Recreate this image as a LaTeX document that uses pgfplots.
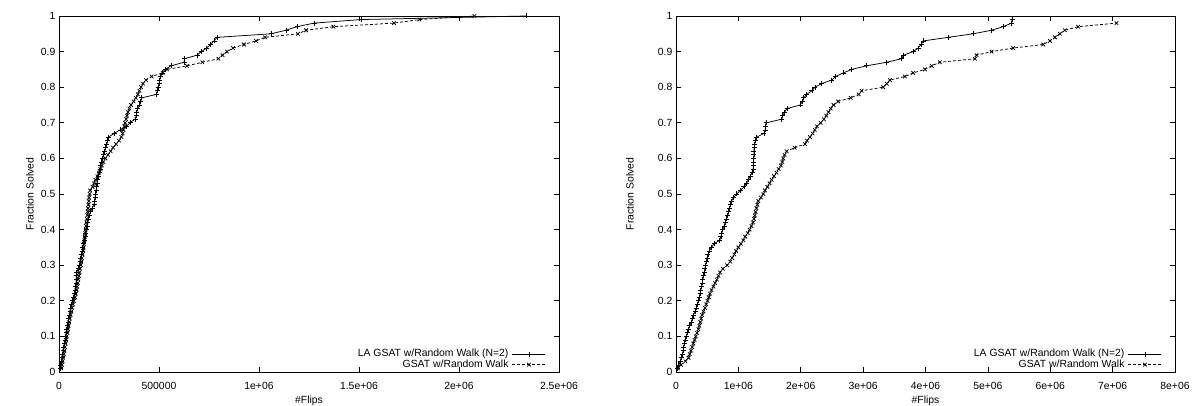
\documentclass[border=0pt]{standalone}
\usepackage{fontspec}
\setmainfont{Liberation Sans}
\usepackage{pgfplots}
\pgfplotsset{compat=1.18}
\begin{document}
\fontsize{10.4}{10.4}\selectfont
\begin{tikzpicture}
\path[use as bounding box] (0pt,0pt) rectangle (1195pt,406pt);
\pgfplotsset{
  myaxis/.style={
    scale only axis, height=356pt, anchor=south west,
    ymin=0, ymax=1,
    ytick={0,0.1,0.2,0.3,0.4,0.5,0.6,0.7,0.8,0.9,1},
    yticklabels={0,0.1,0.2,0.3,0.4,0.5,0.6,0.7,0.8,0.9,1},
    tick align=inside, major tick length=5pt,
    axis line style={line width=0.8pt},
    tick style={black, line width=0.6pt},
    tick label style={font=\fontsize{10.4}{10.4}\selectfont},
    xticklabel style={yshift=-7pt},
    label style={font=\fontsize{10.4}{10.4}\selectfont},
    xlabel={\#Flips}, ylabel={Fraction Solved},
    xlabel style={at={(axis description cs:0.5,0)}, anchor=center, yshift=-29pt},
    scaled x ticks=false, clip=false,
    legend style={draw=none, fill=none, at={(1,0)}, anchor=south east, xshift=-13pt, yshift=2pt,
      font=\fontsize{10.4}{10.4}\selectfont, inner sep=0pt, row sep=0pt, column sep=3pt,
      nodes={inner sep=0.6pt, text height=7pt, text depth=2pt}},
    legend cell align=right, legend plot pos=right,
    legend image code/.code={\draw[mark repeat=2,mark phase=2,##1] plot coordinates {(0pt,0pt)(16.5pt,0pt)(33pt,0pt)};},
  },
  la/.style={black, line width=0.75pt, mark=+, mark size=2.5pt, mark options={solid}},
  gs/.style={black, line width=0.75pt, dash pattern=on 3pt off 2pt, mark=x, mark size=2.5pt, mark options={solid}},
}
\begin{axis}[myaxis, at={(59pt,34pt)}, width=500pt,
  xmin=0, xmax=2500000,
  xtick={0,500000,1000000,1500000,2000000,2500000},
  xticklabels={0,500000,1e+06,1.5e+06,2e+06,2.5e+06},
  ylabel style={at={(axis description cs:-0.058,0.5)}, anchor=center}]
\addplot[la] coordinates {
(5000,0.01)(9000,0.02)(12000,0.03)(15000,0.04)(18000,0.05)(21000,0.06)(24000,0.07)(27000,0.08)(30000,0.09)(33000,0.10)
(36000,0.11)(39000,0.12)(42000,0.13)(45000,0.14)(48000,0.15)(51000,0.16)(55000,0.17)(59000,0.18)(63000,0.19)(67000,0.20)
(72000,0.21)(76000,0.22)(80000,0.23)(83000,0.24)(85000,0.25)(86000,0.26)(87000,0.27)(89000,0.28)(95000,0.29)(101000,0.30)
(105000,0.31)(109000,0.32)(112000,0.33)(116000,0.34)(119000,0.35)(123000,0.36)(126000,0.37)(130000,0.38)(134000,0.39)(138000,0.40)
(141000,0.41)(144000,0.42)(148000,0.43)(152000,0.44)(158000,0.45)(166000,0.46)(175000,0.47)(178000,0.48)(180000,0.49)(183000,0.50)
(186000,0.51)(188000,0.52)(190000,0.53)(193000,0.54)(196000,0.55)(200000,0.56)(205000,0.57)(209000,0.58)(213000,0.59)(218000,0.60)
(224000,0.61)(229000,0.62)(234000,0.63)(239000,0.64)(244000,0.65)(249000,0.66)(275000,0.67)(305000,0.68)(338000,0.69)(355000,0.70)
(380000,0.71)(386000,0.72)(389000,0.73)(393000,0.74)(404000,0.75)(409000,0.76)(414000,0.77)(488000,0.78)(492000,0.79)(495000,0.80)
(500000,0.81)(503000,0.82)(508000,0.83)(515000,0.84)(530000,0.85)(560000,0.86)(625000,0.87)(628000,0.88)(690000,0.89)(712000,0.90)
(738000,0.91)(758000,0.92)(775000,0.93)(790000,0.94)(1060000,0.95)(1135000,0.96)(1190000,0.97)(1275000,0.98)(1510000,0.99)(2335000,1.00)
};
\addlegendentry{LA GSAT w/Random Walk (N=2)}
\addplot[gs] coordinates {
(12000,0.01)(15000,0.02)(18000,0.03)(21000,0.04)(24000,0.05)(27000,0.06)(30000,0.07)(33000,0.08)(36000,0.09)(39000,0.10)
(42000,0.11)(45000,0.12)(48000,0.13)(51000,0.14)(54000,0.15)(58000,0.16)(62000,0.17)(66000,0.18)(70000,0.19)(75000,0.20)
(80000,0.21)(84000,0.22)(88000,0.23)(91000,0.24)(94000,0.25)(97000,0.26)(100000,0.27)(103000,0.28)(106000,0.29)(109000,0.30)
(112000,0.31)(115000,0.32)(118000,0.33)(121000,0.34)(123000,0.35)(125000,0.36)(127000,0.37)(129000,0.38)(131000,0.39)(133000,0.40)
(135000,0.41)(137000,0.42)(139000,0.43)(141000,0.44)(143000,0.45)(145000,0.46)(147000,0.47)(149000,0.48)(151000,0.49)(153000,0.50)
(156000,0.51)(168000,0.52)(175000,0.53)(182000,0.54)(192000,0.55)(200000,0.56)(207000,0.57)(214000,0.58)(222000,0.59)(232000,0.60)
(245000,0.61)(258000,0.62)(270000,0.63)(285000,0.64)(300000,0.65)(312000,0.66)(318000,0.67)(322000,0.68)(326000,0.69)(331000,0.70)
(336000,0.71)(340000,0.72)(345000,0.73)(352000,0.74)(360000,0.75)(373000,0.76)(384000,0.77)(394000,0.78)(402000,0.79)(410000,0.80)
(420000,0.81)(435000,0.82)(463000,0.83)(518000,0.84)(540000,0.85)(640000,0.86)(717000,0.87)(797000,0.88)(818000,0.89)(840000,0.90)
(870000,0.91)(925000,0.92)(985000,0.93)(1030000,0.94)(1195000,0.95)(1235000,0.96)(1372000,0.97)(1675000,0.98)(1802000,0.99)(2077000,1.00)
};
\addlegendentry{GSAT w/Random Walk}
\end{axis}
\begin{axis}[myaxis, at={(676pt,34pt)}, width=499pt,
  xmin=0, xmax=8000000,
  xtick={0,1000000,2000000,3000000,4000000,5000000,6000000,7000000,8000000},
  xticklabels={0,1e+06,2e+06,3e+06,4e+06,5e+06,6e+06,7e+06,8e+06},
  ylabel style={at={(axis description cs:-0.0922,0.5)}, anchor=center}]
\addplot[la] coordinates {
(20000,0.01)(45000,0.02)(65000,0.03)(85000,0.04)(100000,0.05)(115000,0.06)(125000,0.07)(135000,0.08)(145000,0.09)(163000,0.10)
(182000,0.11)(200000,0.12)(220000,0.13)(245000,0.14)(262000,0.15)(280000,0.16)(305000,0.17)(325000,0.18)(345000,0.19)(360000,0.20)
(375000,0.21)(385000,0.22)(397000,0.23)(408000,0.24)(420000,0.25)(430000,0.26)(440000,0.27)(452000,0.28)(463000,0.29)(475000,0.30)
(486000,0.31)(497000,0.32)(512000,0.33)(535000,0.34)(570000,0.35)(610000,0.36)(700000,0.37)(720000,0.38)(735000,0.39)(750000,0.40)
(770000,0.41)(790000,0.42)(810000,0.43)(830000,0.44)(845000,0.45)(860000,0.46)(875000,0.47)(890000,0.48)(920000,0.49)(975000,0.50)
(1030000,0.51)(1090000,0.52)(1130000,0.53)(1160000,0.54)(1190000,0.55)(1220000,0.56)(1235000,0.57)(1242000,0.58)(1245000,0.59)(1247000,0.60)
(1249000,0.61)(1250000,0.62)(1253000,0.63)(1260000,0.64)(1275000,0.65)(1295000,0.66)(1410000,0.67)(1430000,0.68)(1437000,0.69)(1445000,0.70)
(1694000,0.71)(1710000,0.72)(1740000,0.73)(1780000,0.74)(1990000,0.75)(2030000,0.76)(2050000,0.77)(2094000,0.78)(2180000,0.79)(2228000,0.80)
(2335000,0.81)(2495000,0.82)(2560000,0.83)(2682000,0.84)(2816000,0.85)(3056000,0.86)(3377000,0.87)(3617000,0.88)(3650000,0.89)(3803000,0.90)
(3880000,0.91)(3930000,0.92)(3963000,0.93)(4364000,0.94)(4765000,0.95)(5059000,0.96)(5246000,0.97)(5380000,0.98)(5390000,0.99)
};
\addlegendentry{LA GSAT w/Random Walk (N=2)}
\addplot[gs] coordinates {
(30000,0.01)(80000,0.02)(150000,0.03)(200000,0.04)(220000,0.05)(240000,0.06)(260000,0.07)(277000,0.08)(297000,0.09)(317000,0.10)
(337000,0.11)(360000,0.12)(375000,0.13)(390000,0.14)(405000,0.15)(420000,0.16)(440000,0.17)(465000,0.18)(485000,0.19)(505000,0.20)
(525000,0.21)(545000,0.22)(570000,0.23)(600000,0.24)(628000,0.25)(655000,0.26)(680000,0.27)(705000,0.28)(750000,0.29)(820000,0.30)
(870000,0.31)(900000,0.32)(935000,0.33)(965000,0.34)(1000000,0.35)(1040000,0.36)(1079000,0.37)(1110000,0.38)(1150000,0.39)(1180000,0.40)
(1210000,0.41)(1235000,0.42)(1250000,0.43)(1262000,0.44)(1275000,0.45)(1290000,0.46)(1305000,0.47)(1320000,0.48)(1360000,0.49)(1400000,0.50)
(1426000,0.51)(1465000,0.52)(1500000,0.53)(1533000,0.54)(1570000,0.55)(1610000,0.56)(1645000,0.57)(1680000,0.58)(1705000,0.59)(1720000,0.60)
(1740000,0.61)(1774000,0.62)(1900000,0.63)(2067000,0.64)(2100000,0.65)(2148000,0.66)(2190000,0.67)(2225000,0.68)(2260000,0.69)(2320000,0.70)
(2370000,0.71)(2410000,0.72)(2445000,0.73)(2480000,0.74)(2525000,0.75)(2600000,0.76)(2800000,0.77)(2930000,0.78)(2976000,0.79)(3322000,0.80)
(3380000,0.81)(3430000,0.82)(3670000,0.83)(3803000,0.84)(3990000,0.85)(4100000,0.86)(4231000,0.87)(4792000,0.88)(4819000,0.89)(5059000,0.90)
(5406000,0.91)(5887000,0.92)(5994000,0.93)(6074000,0.94)(6154000,0.95)(6234000,0.96)(6447000,0.97)(7062000,0.98)
};
\addlegendentry{GSAT w/Random Walk}
\end{axis}
\end{tikzpicture}
\end{document}
